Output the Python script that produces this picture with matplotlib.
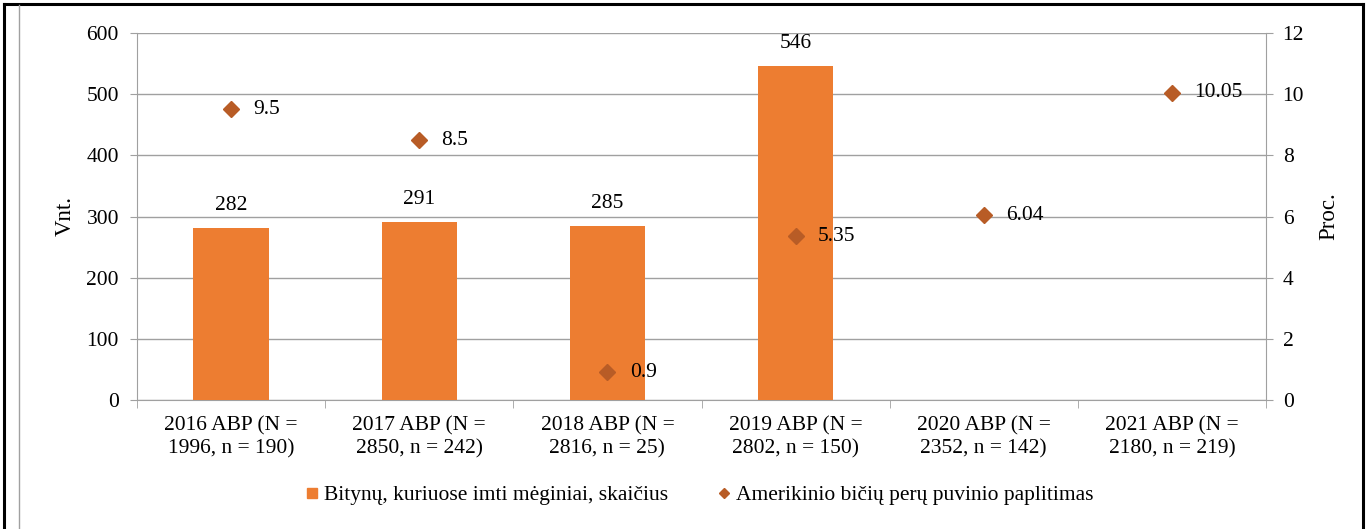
import matplotlib.pyplot as plt
from matplotlib.lines import Line2D
import numpy as np

plt.rcParams['font.family'] = ['Liberation Serif', 'DejaVu Serif']

categories = ["2016 ABP (N =\n1996, n = 190)", "2017 ABP (N =\n2850, n = 242)",
              "2018 ABP (N =\n2816, n = 25)", "2019 ABP (N =\n2802, n = 150)",
              "2020 ABP (N =\n2352, n = 142)", "2021 ABP (N =\n2180, n = 219)"]
bar_values = [282, 291, 285, 546]
prevalence = [9.5, 8.5, 0.9, 5.35, 6.04, 10.05]
prevalence_labels = ["9.5", "8.5", "0.9", "5.35", "6.04", "10.05"]
left_ticks = [0, 100, 200, 300, 400, 500, 600]
right_ticks = [0, 2, 4, 6, 8, 10, 12]
bar_name = "Bitynų, kuriuose imti mėginiai, skaičius"
marker_name = "Amerikinio bičių perų puvinio paplitimas"

W, H = 1371, 529
fig = plt.figure(figsize=(W / 100, H / 100), dpi=100)
L, R, T, B = 137, 1266, 33, 400
ax = fig.add_axes([L / W, 1 - B / H, (R - L) / W, (B - T) / H])

GRAY = '#A0A0A0'
BAR = '#ED7D31'
MK = '#B85C26'
FS = 15.5

x = np.arange(len(categories))
ax.bar(x[:len(bar_values)], bar_values, width=0.4, color=BAR, zorder=3)
for xi, v in zip(x, bar_values):
    ax.annotate(str(v), (xi, v), xytext=(0, 16), textcoords='offset points',
                ha='center', va='center', fontsize=FS)

ax.set_xlim(-0.5, len(categories) - 0.5)
ax.set_ylim(0, 600)
ax.set_yticks(left_ticks)
ax.grid(axis='y', color=GRAY, lw=1)
ax.set_axisbelow(True)
ax.set_xticks(x)
ax.set_xticklabels(categories, fontsize=FS, linespacing=1.2)
ax.set_xticks(np.arange(-0.5, len(categories)), minor=True)
ax.tick_params(axis='x', which='major', length=0, pad=12)
ax.tick_params(axis='x', which='minor', length=6, color=GRAY, direction='out')
ax.tick_params(axis='y', labelsize=FS, length=5, color=GRAY, pad=8)
for s in ['top', 'right']:
    ax.spines[s].set_visible(False)
for s in ['left', 'bottom']:
    ax.spines[s].set_color(GRAY)

ax2 = ax.twinx()
ax2.set_ylim(0, 12)
ax2.set_yticks(right_ticks)
ax2.plot(x, prevalence, linestyle='none', marker='D', ms=8.5, color=MK, zorder=4)
for xi, v, lab in zip(x, prevalence, prevalence_labels):
    ax2.annotate(lab, (xi, v), xytext=(16, 0), textcoords='offset points',
                 ha='left', va='center', fontsize=FS)
ax2.tick_params(axis='y', labelsize=FS, length=5, color=GRAY, pad=7)
for s in ['top', 'left', 'bottom']:
    ax2.spines[s].set_visible(False)
ax2.spines['right'].set_color(GRAY)

ax.set_ylabel('Vnt.', fontsize=16.5)
ax.yaxis.set_label_coords(-0.054, 0.5)
ax2.set_ylabel('Proc.', fontsize=16.5, rotation=90)
ax2.yaxis.set_label_coords(1.046, 0.5)

handles = [Line2D([], [], linestyle='none', marker='s', ms=7.5, color=BAR),
           Line2D([], [], linestyle='none', marker='D', ms=5, color=MK)]
fig.legend(handles, [bar_name, marker_name], loc='center', ncol=2,
           bbox_to_anchor=(0.51, 1 - 495 / H), frameon=False, fontsize=FS,
           handlelength=0.6, handletextpad=0.25, columnspacing=2.3)

# outer frame
fig.add_artist(Line2D([4 / W, 4 / W], [0, 1 - 4 / H], color='black', lw=2.2))
fig.add_artist(Line2D([4 / W, 1363 / W], [1 - 4 / H, 1 - 4 / H], color='black', lw=2.2))
fig.add_artist(Line2D([1363 / W, 1363 / W], [0, 1 - 4 / H], color='black', lw=2.2))
fig.add_artist(Line2D([19 / W, 19 / W], [0, 1 - 5 / H], color=GRAY, lw=1))

fig.savefig('out.png', dpi=100)
